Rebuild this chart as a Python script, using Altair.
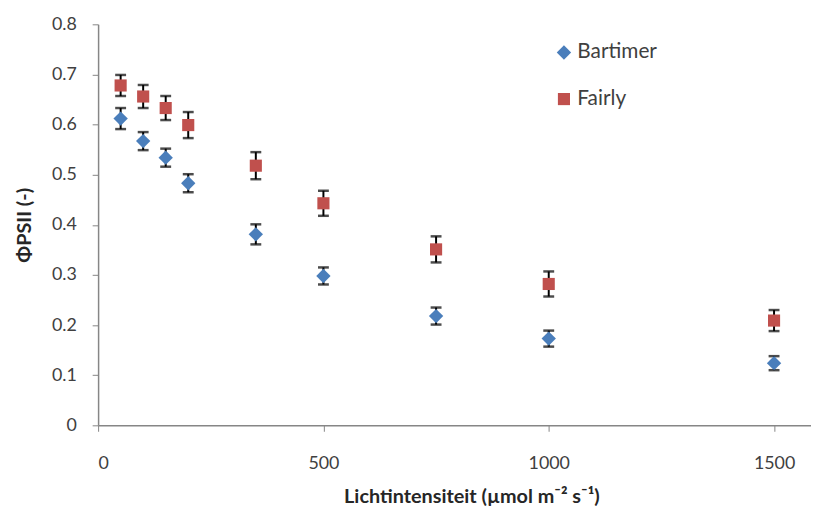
import altair as alt
import pandas as pd

intensity = [50, 100, 150, 200, 350, 500, 750, 1000, 1500]
bartimer = [0.612, 0.567, 0.534, 0.483, 0.381, 0.298, 0.218, 0.173, 0.124]
bartimer_err = [0.021, 0.018, 0.018, 0.018, 0.020, 0.017, 0.017, 0.016, 0.014]
fairly = [0.678, 0.656, 0.633, 0.599, 0.518, 0.443, 0.351, 0.282, 0.209]
fairly_err = [0.021, 0.023, 0.024, 0.026, 0.027, 0.025, 0.026, 0.025, 0.021]

rows = []
for name, vals, errs in [("Bartimer", bartimer, bartimer_err), ("Fairly", fairly, fairly_err)]:
    for x, v, e in zip(intensity, vals, errs):
        rows.append({"x": x, "y": v, "lo": v - e, "hi": v + e, "cultivar": name})
df = pd.DataFrame(rows)

FONT = "Lato"
xs = alt.Scale(domain=[0, 1582], nice=False)
ys = alt.Scale(domain=[0, 0.8], nice=False)

base = alt.Chart(df)

x_enc = alt.X("x:Q", scale=xs, title="Lichtintensiteit (µmol m⁻² s⁻¹)",
              axis=alt.Axis(values=[0, 500, 1000, 1500], format="d", labelPadding=24,
                            titlePadding=14, titleX=377, titleAnchor="middle"))
y_enc = alt.Y("y:Q", scale=ys, title="ΦPSII (-)",
              axis=alt.Axis(values=[0, 0.1, 0.2, 0.3, 0.4, 0.5, 0.6, 0.7, 0.8], format=".1~f",
                            labelPadding=16, titlePadding=17))

rules = base.mark_rule(color="black", strokeWidth=2).encode(
    x=alt.X("x:Q", scale=xs), y=alt.Y("lo:Q", scale=ys), y2="hi:Q")
cap_lo = base.mark_tick(color="black", thickness=2.5, size=11, orient="horizontal").encode(
    x=alt.X("x:Q", scale=xs), y=alt.Y("lo:Q", scale=ys))
cap_hi = base.mark_tick(color="black", thickness=2.5, size=11, orient="horizontal").encode(
    x=alt.X("x:Q", scale=xs), y=alt.Y("hi:Q", scale=ys))

points = base.mark_point(filled=True, opacity=1).encode(
    x=x_enc, y=y_enc,
    color=alt.Color("cultivar:N", scale=alt.Scale(domain=["Bartimer", "Fairly"],
                                                  range=["#4A7EBB", "#C0504D"]),
                    legend=alt.Legend(title=None, orient="none", legendX=460, legendY=18,
                                      rowPadding=25, labelFontSize=21, labelColor="#404040",
                                      labelFont=FONT, symbolSize=140, labelOffset=3)),
    shape=alt.Shape("cultivar:N", scale=alt.Scale(domain=["Bartimer", "Fairly"],
                                                  range=["diamond", "square"]), legend=None),
    size=alt.Size("cultivar:N", scale=alt.Scale(domain=["Bartimer", "Fairly"], range=[210, 150]),
                  legend=None),
)

chart = (rules + cap_lo + cap_hi + points).properties(
    width=720, height=405,
    autosize=alt.AutoSizeParams(type="none"),
    padding={"left": 91, "top": 14, "right": 0, "bottom": 80},
).configure_view(stroke=None).configure_axis(
    grid=False, domainColor="#868686", domainWidth=1.5, tickColor="#868686", tickSize=6,
    labelFont=FONT, labelFontSize=18, labelColor="#404040",
    titleFont=FONT, titleFontSize=20, titleColor="#262626", titleFontWeight="bold",
)

chart.save("out.html", embed_options={"renderer": "svg", "actions": False})
